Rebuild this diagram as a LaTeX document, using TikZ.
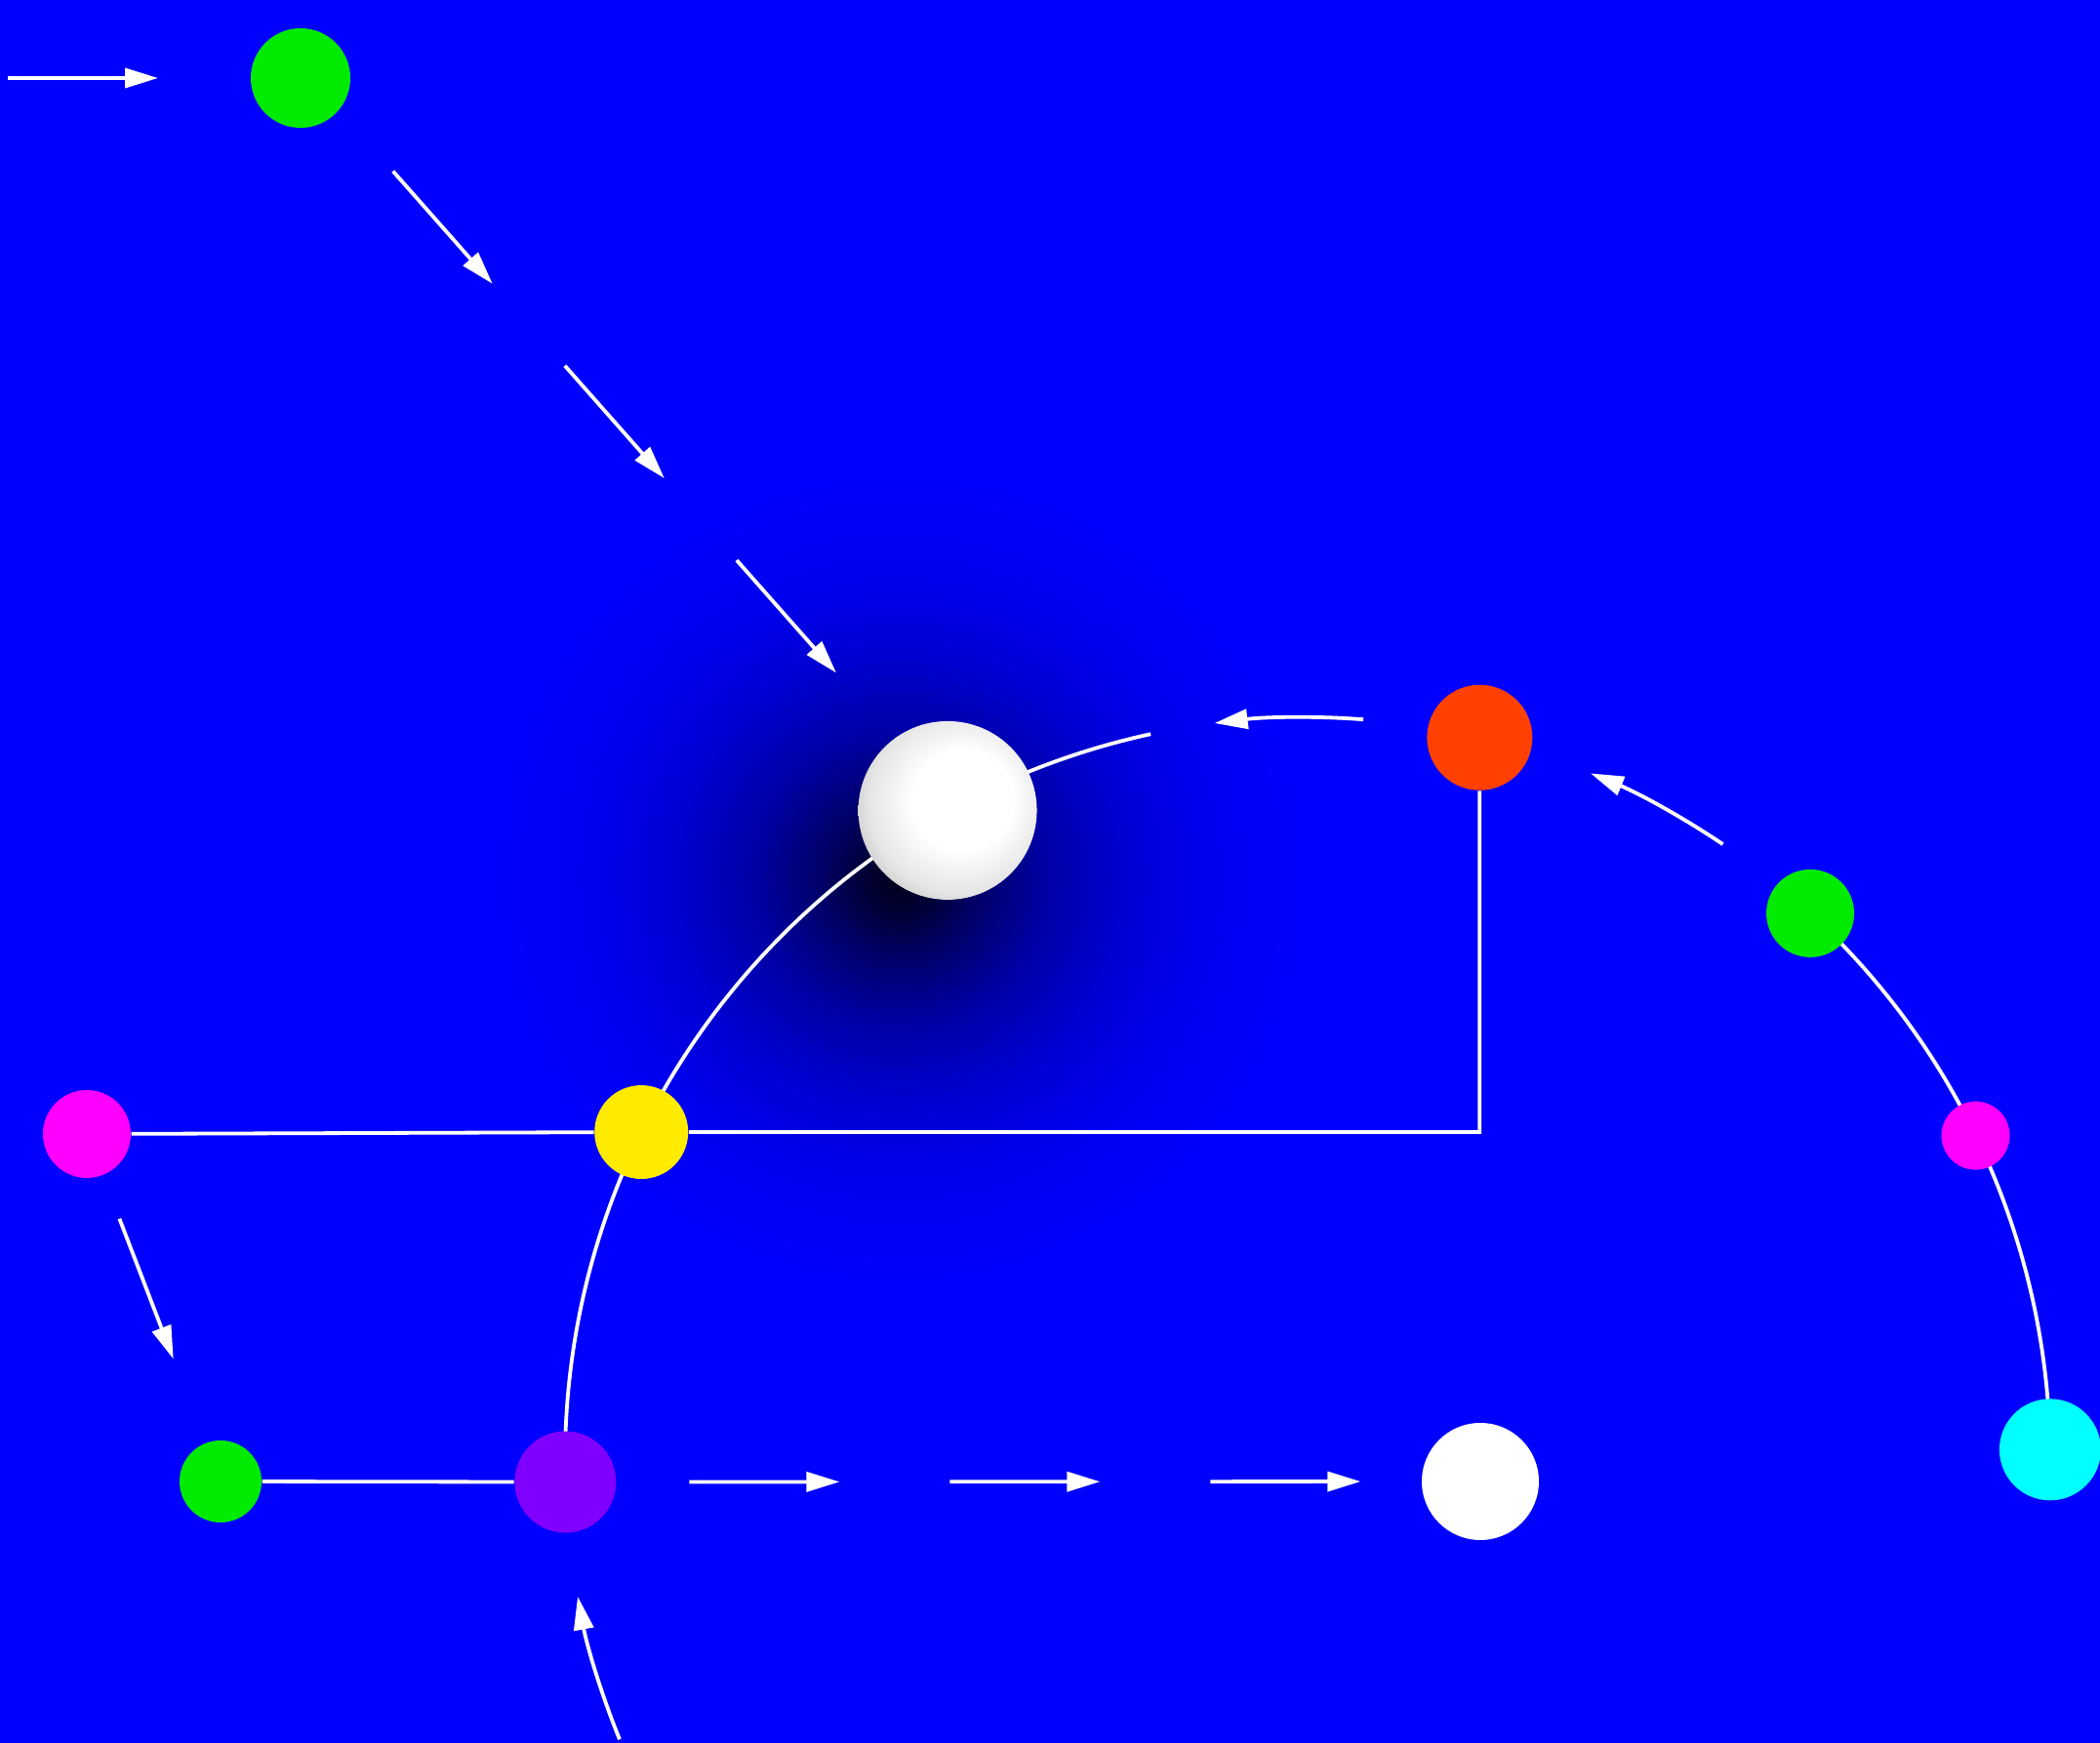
\documentclass[tikz,border=0pt]{standalone}
\usepackage{xcolor}
\usepackage{tikz}
\usetikzlibrary{arrows.meta,calc,backgrounds}
\definecolor{bgblue}{RGB}{0,0,255}
\definecolor{nodegreen}{RGB}{0,235,0}
\definecolor{nodered}{RGB}{255,64,0}
\definecolor{nodemag}{RGB}{255,0,255}
\definecolor{nodeyellow}{RGB}{255,235,0}
\definecolor{nodeviolet}{RGB}{128,0,255}
\definecolor{nodecyan}{RGB}{0,255,255}
\pgfdeclareradialshading{castshadow}{\pgfpoint{0bp}{0bp}}{%
  color(0bp)=(bgblue!10!black); color(2bp)=(bgblue!20!black); color(5bp)=(bgblue!42!black);
  color(9bp)=(bgblue!65!black); color(14bp)=(bgblue!83!black); color(19bp)=(bgblue!94!black);
  color(25bp)=(bgblue); color(50bp)=(bgblue)}
\pgfdeclareradialshading{pearl}{\pgfpoint{6bp}{4bp}}{%
  color(0bp)=(white); color(14bp)=(white); color(25bp)=(black!10);
  color(32bp)=(black!25); color(50bp)=(black!25)}
\newcommand{\orbit}{7.61}

\begin{document}
\begin{tikzpicture}[
        wire/.style={white, line width=0.038cm},
        arr/.style={wire, -{Triangle[length=0.34cm, width=0.2cm]}},
        dot/.style={circle, inner sep=0pt, minimum size=#1}
    ]
        \useasboundingbox (0,0) rectangle (21.52,17.86);
        \coordinate (o) at (13.40,2.90);
        % nodes on the big circle
        \node[dot=1.83cm, shade, shading=pearl] (ball) at ($(o)+(119:\orbit)$) {};
        \node[dot=0.96cm, fill=nodeyellow] (yel) at ($(o)+(153.8:\orbit)$) {};
        \node[dot=1.04cm, fill=nodeviolet] (vio) at ($(o)+(181.7:\orbit)$) {};
        \node[dot=1.08cm, fill=nodered] (red) at ($(o)+(76.6:\orbit)$) {};
        \node[dot=0.90cm, fill=nodegreen] (grn2) at ($(o)+(47.4:\orbit)$) {};
        \node[dot=0.70cm, fill=nodemag] (mag2) at ($(o)+(25.9:\orbit)$) {};
        \node[dot=1.04cm, fill=nodecyan] (cyan) at ($(o)+(0.8:\orbit)$) {};
        % other nodes
        \node[dot=1.02cm, fill=nodegreen] (grn1) at (3.08,17.06) {};
        \node[dot=0.90cm, fill=nodemag] (mag1) at (0.89,6.24) {};
        \node[dot=0.84cm, fill=nodegreen] (grn3) at (2.26,2.68) {};
        \node[dot=1.20cm, fill=white] (wht) at (15.17,2.68) {};
        % free ends
        \coordinate (entry) at (0.08,17.06);
        \coordinate (a0) at ($(o)+(102.2:\orbit)$);
        \coordinate (b0) at ($(o)+(85.7:\orbit)$);
        \coordinate (b1) at ($(o)+(56.0:\orbit)$);
        \coordinate (b2) at ($(o)+(202.1:\orbit)$);
        \coordinate (g1s) at ($(grn1)+(0.06,0.05)$);
        \coordinate (bls) at ($(ball)+(0.06,0.05)$);
        \begin{scope}[on background layer]
            \fill[bgblue] (0,0) rectangle (21.52,17.86);
            \shade[shading=castshadow] (9.22,8.86) circle (4.2);
            % arcs
            \draw[wire] (a0) arc[start angle=102.2, end angle=119, radius=\orbit];
            \draw[wire] (ball.center) arc[start angle=119, end angle=153.8, radius=\orbit];
            \draw[wire] (yel.center) arc[start angle=153.8, end angle=181.7, radius=\orbit];
            \draw[wire] (grn2.center) arc[start angle=47.4, end angle=0.8, radius=\orbit];
            \draw[arr] (b0) arc[start angle=85.7, end angle=97.2, radius=\orbit];
            \draw[arr] (b1) arc[start angle=56.0, end angle=67.6, radius=\orbit];
            \draw[arr] (b2) arc[start angle=202.1, end angle=190.6, radius=\orbit];
            % straight lines
            \draw[wire] (mag1) -- (yel) -- (yel -| red) -- (red);
            \draw[wire] (grn3) -- (vio);
            \draw[arr] (entry) -- ($(entry)!1.54cm!(grn1)$);
            \draw[arr] ($(g1s)!1.34cm!(bls)$) -- ($(g1s)!2.88cm!(bls)$);
            \draw[arr] ($(g1s)!4.00cm!(bls)$) -- ($(g1s)!5.54cm!(bls)$);
            \draw[arr] ($(g1s)!6.66cm!(bls)$) -- ($(g1s)!8.20cm!(bls)$);
            \draw[arr] ($(mag1)!0.93cm!(grn3)$) -- ($(mag1)!2.47cm!(grn3)$);
            \draw[arr] ($(vio)!1.27cm!(wht)$) -- ($(vio)!2.81cm!(wht)$);
            \draw[arr] ($(vio)!3.94cm!(wht)$) -- ($(vio)!5.48cm!(wht)$);
            \draw[arr] ($(vio)!6.61cm!(wht)$) -- ($(vio)!8.15cm!(wht)$);
        \end{scope}
    \end{tikzpicture}
\end{document}
